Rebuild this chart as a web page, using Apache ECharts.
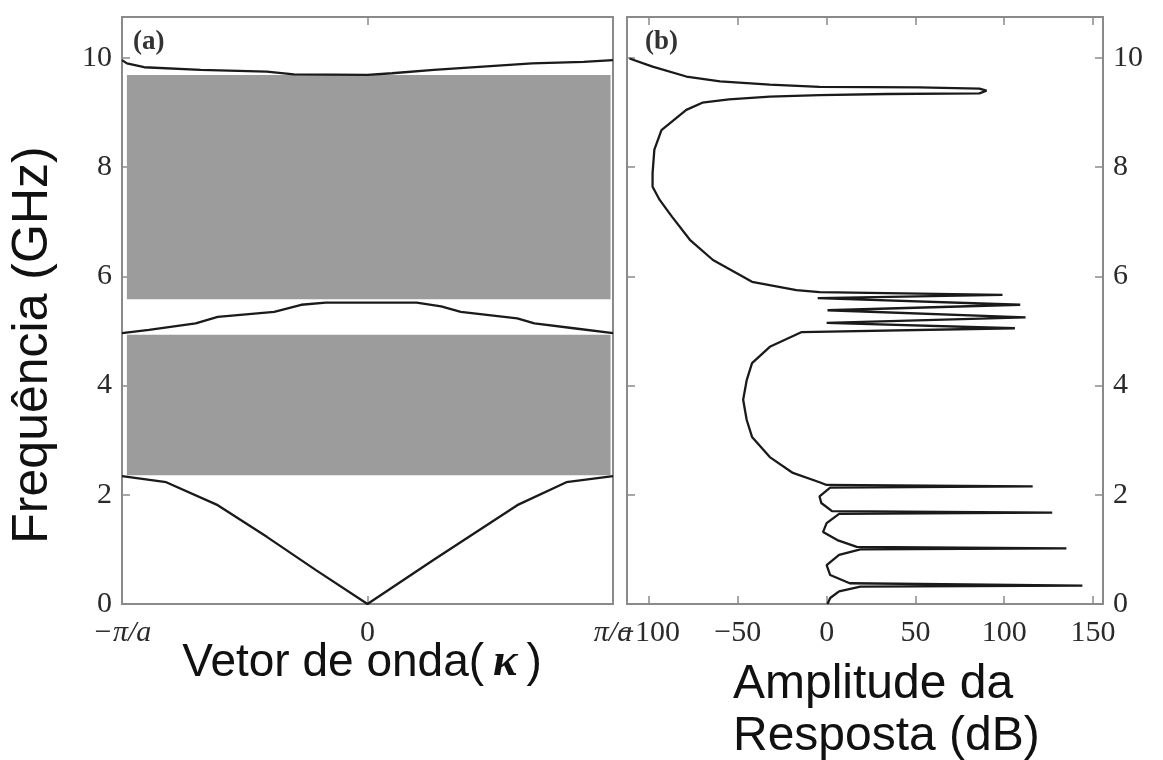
<!DOCTYPE html>
<html>
<head>
<meta charset="utf-8">
<title>Bandas de frequência e resposta</title>
<script src="https://cdn.jsdelivr.net/npm/echarts@6/dist/echarts.min.js"></script>
<style>
  html, body { margin: 0; padding: 0; background: #fff; }
  #chart { width: 1163px; height: 760px; }
</style>
</head>
<body>
<div id="chart"></div>
<script>
// ---- (a) dispersion: wave vector k in units of pi/a ----
const kTicks = [-1, 0, 1];
const kTickLabels = ['−π/a', '0', 'π/a'];
const freqTicks = [0, 2, 4, 6, 8, 10];

// lower branch (acoustic-like V)
const lowerK = [-1, -0.82, -0.61, -0.41, -0.21, 0, 0.27, 0.61, 0.81, 1];
const lowerF = [2.34, 2.23, 1.81, 1.23, 0.62, 0, 0.81, 1.81, 2.23, 2.34];

// branch between the two stop bands
const middleK = [-1, -0.89, -0.70, -0.61, -0.38, -0.27, -0.17, 0.20, 0.30, 0.38, 0.61, 0.68, 0.84, 1];
const middleF = [4.96, 5.02, 5.14, 5.26, 5.35, 5.48, 5.52, 5.52, 5.45, 5.35, 5.23, 5.14, 5.05, 4.96];

// branch above the upper stop band
const upperK = [-1, -0.98, -0.91, -0.68, -0.41, -0.30, 0, 0.10, 0.27, 0.47, 0.67, 0.88, 1];
const upperF = [9.96, 9.90, 9.83, 9.78, 9.75, 9.70, 9.69, 9.72, 9.78, 9.84, 9.90, 9.93, 9.96];

// stop bands (GHz) and their horizontal extent in k
const stopBandLow = [2.36, 5.58];
const stopBandHigh = [4.93, 9.69];
const stopBandK = [-0.98, 0.99];

// ---- (b) response amplitude (dB) against frequency (GHz) ----
const ampTicks = [-100, -50, 0, 50, 100, 150];
const respAmp = [-111, -98, -79, -60, -32, -4, 52, 86, 90, 86, 34, -4, -32, -55, -70, -79,
  -93, -97, -98, -98, -94, -87, -77, -64, -42, -17, -4, 99, -5, 109, 0.5, 112, 0, 106, -14,
  -32, -42, -45, -47, -45, -42, -32, -19, -4, 0, 116, 2, -4, -3, 3, 127, 7, 0, -2, 6, 17,
  135, 19, 7, 0, 2, 13, 144, 19, 7, 2, 0.5];
const respFreq = [9.99, 9.84, 9.66, 9.57, 9.51, 9.47, 9.46, 9.44, 9.40, 9.35, 9.34, 9.32,
  9.29, 9.24, 9.18, 9.05, 8.68, 8.32, 7.89, 7.64, 7.40, 7.09, 6.67, 6.30, 5.90, 5.75, 5.71,
  5.66, 5.60, 5.48, 5.38, 5.25, 5.15, 5.05, 4.98, 4.71, 4.41, 4.10, 3.74, 3.37, 3.06, 2.69,
  2.40, 2.23, 2.18, 2.155, 2.13, 1.97, 1.85, 1.70, 1.675, 1.65, 1.48, 1.32, 1.17, 1.045,
  1.02, 1.00, 0.90, 0.71, 0.53, 0.38, 0.335, 0.32, 0.23, 0.11, 0];

// ---- helpers ----
const zip = (xs, ys) => xs.map((x, i) => [x, ys[i]]);

const FRAME = '#8a8a8a';
const INK = '#1a1a1a';
const SERIF = '"Liberation Serif", "DejaVu Serif", serif';
const SANS = '"Liberation Sans", Arial, sans-serif';

const hiddenLine = { show: false, onZero: false };
const tickStyle = { show: true, inside: true, length: 8, lineStyle: { color: FRAME, width: 1.5 } };
const labelStyle = { color: '#2a2a2a', fontFamily: SERIF, fontSize: 30 };

const curve = (name, data, xi, yi) => ({
  name, type: 'line', data, xAxisIndex: xi, yAxisIndex: yi,
  showSymbol: false, symbol: 'none', smooth: false, silent: true,
  lineStyle: { color: INK, width: 2.3 }
});

const chart = echarts.init(document.getElementById('chart'), null, { renderer: 'canvas' });

const option = {
  backgroundColor: '#fff',
  animation: false,
  grid: [
    { left: 122, top: 17, width: 491, height: 587, show: true, borderColor: FRAME, borderWidth: 2, backgroundColor: 'transparent' },
    { left: 627, top: 17, width: 476, height: 587, show: true, borderColor: FRAME, borderWidth: 2, backgroundColor: 'transparent' }
  ],
  xAxis: [
    {
      type: 'value', gridIndex: 0, position: 'bottom', min: -1, max: 1,
      axisLine: hiddenLine, splitLine: { show: false },
      axisTick: Object.assign({}, tickStyle, { customValues: [0] }),
      axisLabel: Object.assign({}, labelStyle, {
        margin: 14,
        customValues: kTicks,
        formatter: v => {
          const i = kTicks.indexOf(v);
          const t = i >= 0 ? kTickLabels[i] : '';
          return t === '0' ? t : '{i|' + t + '}';
        },
        rich: { i: { fontStyle: 'italic', fontFamily: SERIF, fontSize: 30, color: '#2a2a2a' } }
      })
    },
    {
      type: 'value', gridIndex: 0, position: 'top', min: -1, max: 1,
      axisLine: hiddenLine, splitLine: { show: false },
      axisTick: Object.assign({}, tickStyle, { customValues: [0] }),
      axisLabel: { show: false }
    },
    {
      type: 'value', gridIndex: 1, position: 'bottom', min: -112.4, max: 155.6,
      axisLine: hiddenLine, splitLine: { show: false },
      axisTick: Object.assign({}, tickStyle, { customValues: ampTicks }),
      axisLabel: Object.assign({}, labelStyle, {
        margin: 14, customValues: ampTicks,
        formatter: v => (v < 0 ? '−' + Math.abs(v) : String(v))
      })
    },
    {
      type: 'value', gridIndex: 1, position: 'top', min: -112.4, max: 155.6,
      axisLine: hiddenLine, splitLine: { show: false },
      axisTick: Object.assign({}, tickStyle, { customValues: ampTicks }),
      axisLabel: { show: false }
    }
  ],
  yAxis: [
    {
      type: 'value', gridIndex: 0, position: 'left', min: 0, max: 10.75,
      axisLine: hiddenLine, splitLine: { show: false },
      axisTick: Object.assign({}, tickStyle, { customValues: freqTicks }),
      axisLabel: Object.assign({}, labelStyle, { margin: 10, customValues: freqTicks })
    },
    {
      type: 'value', gridIndex: 1, position: 'left', min: 0, max: 10.75,
      axisLine: hiddenLine, splitLine: { show: false },
      axisTick: Object.assign({}, tickStyle, { customValues: freqTicks }),
      axisLabel: { show: false }
    },
    {
      type: 'value', gridIndex: 1, position: 'right', min: 0, max: 10.75,
      axisLine: hiddenLine, splitLine: { show: false },
      axisTick: Object.assign({}, tickStyle, { customValues: freqTicks }),
      axisLabel: Object.assign({}, labelStyle, { margin: 10, customValues: freqTicks })
    }
  ],
  series: [
    Object.assign(curve('ramo inferior', zip(lowerK, lowerF), 0, 0), {
      markArea: {
        silent: true,
        itemStyle: { color: '#9c9c9c', opacity: 1 },
        data: stopBandLow.map((lo, i) => [
          { xAxis: stopBandK[0], yAxis: lo },
          { xAxis: stopBandK[1], yAxis: stopBandHigh[i] }
        ])
      }
    }),
    curve('ramo intermediário', zip(middleK, middleF), 0, 0),
    curve('ramo superior', zip(upperK, upperF), 0, 0),
    curve('resposta', zip(respAmp, respFreq), 2, 2)
  ],
  graphic: [
    {
      type: 'text', x: 33, y: 345, rotation: Math.PI / 2,
      style: { text: 'Frequência (GHz)', font: '50px ' + SANS, fill: '#111', textAlign: 'center', textVerticalAlign: 'middle' }
    },
    {
      type: 'text', x: 362, y: 663,
      style: {
        text: '{s|Vetor de onda(}{k|κ}{s|)}',
        textAlign: 'center', textVerticalAlign: 'middle',
        rich: {
          s: { fontFamily: SANS, fontSize: 46, fill: '#111', color: '#111' },
          k: { fontFamily: SERIF, fontSize: 46, fontWeight: 'bold', fontStyle: 'italic', fill: '#111', color: '#111', padding: [0, 9, 0, 9] }
        }
      }
    },
    {
      type: 'text', x: 733, y: 711,
      style: { text: 'Amplitude da\nResposta (dB)', font: '48px ' + SANS, fill: '#111', lineHeight: 52, textAlign: 'left', textVerticalAlign: 'middle' }
    },
    {
      type: 'text', x: 133, y: 42,
      style: { text: '(a)', font: 'bold 27px ' + SERIF, fill: '#333', textAlign: 'left', textVerticalAlign: 'middle' }
    },
    {
      type: 'text', x: 645, y: 42,
      style: { text: '(b)', font: 'bold 27px ' + SERIF, fill: '#333', textAlign: 'left', textVerticalAlign: 'middle' }
    }
  ]
};

chart.setOption(option);
</script>
</body>
</html>
